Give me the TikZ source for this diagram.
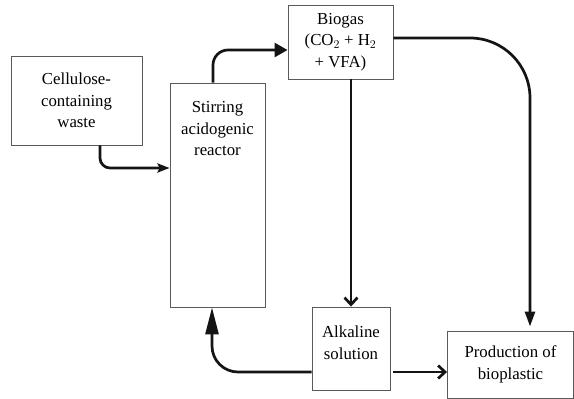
\documentclass[tikz,border=0pt]{standalone}
\usepackage{fontspec}
\setmainfont{Liberation Serif}
\usetikzlibrary{arrows.meta}
\begin{document}
\begin{tikzpicture}[x=1pt,y=-1pt,
  box/.style={draw=black!65, line width=0.9pt, inner sep=0pt},
  txt/.style={align=center, font=\fontsize{16.8}{21.5}\selectfont, inner sep=0pt},
  flow/.style={line width=2.7pt, black!92}]
\useasboundingbox[fill=white] (0,0) rectangle (574,399);
% boxes
\node[box, txt, minimum width=131, minimum height=89] (cell) at (76.5,100.5) {Cellulose-\\containing\\waste};
\node[box, minimum width=95, minimum height=224] (stir) at (217.5,195) {};
\node[txt] (stirtxt) at (217.5,129) {Stirring\\acidogenic\\reactor};
\node[box, txt, minimum width=105, minimum height=74] (bio) at (340.5,42) {Biogas\\(CO$_2$ + H$_2$\\+ VFA)};
\node[box, minimum width=78, minimum height=83] (alk) at (351,348.5) {};
\node[txt] (alktxt) at (351,343) {Alkaline\\solution};
\node[box, txt, minimum width=126, minimum height=67] (prod) at (510.5,364.5) {Production of\\bioplastic};
% helper coordinates
\coordinate (cellout) at ([xshift=23.5pt]cell.south);
\coordinate (stirin) at ([yshift=27pt]stir.west);
\coordinate (stirout) at ([xshift=-4.5pt]stir.north);
\coordinate (bioin) at ([yshift=-8pt]bio.west);
\coordinate (bioout) at ([yshift=4pt]bio.east);
\coordinate (prodin) at ([xshift=19.5pt]prod.north);
\coordinate (aout) at ([yshift=-23.5pt]alk.west);
\coordinate (aoutr) at ([yshift=-23.5pt]alk.east);
\coordinate (stirback) at ([xshift=-5.5pt]stir.south);
% connectors
\draw[flow, rounded corners=10, -{Stealth[length=12pt,width=9pt,inset=2pt]}] (cellout) |- (stirin);
\draw[flow, rounded corners=15, -{Triangle[length=13pt,width=14pt]}] (stirout) |- (bioin);
\draw[flow, rounded corners=60, shorten >=4pt, -{Triangle[length=15pt,width=10pt]}] (bioout) -| (prodin);
\draw[flow, -{Straight Barb[length=7pt,width=13pt]}] (alk.north |- bio.south) -- (alk.north);
\draw[flow, rounded corners=26, -{Triangle[length=27pt,width=13pt]}] (aout) -| (stirback);
\draw[flow, shorten <=3pt, -{Straight Barb[length=7pt,width=13pt]}] (aoutr) -- (aoutr -| prod.west);
\end{tikzpicture}
\end{document}
